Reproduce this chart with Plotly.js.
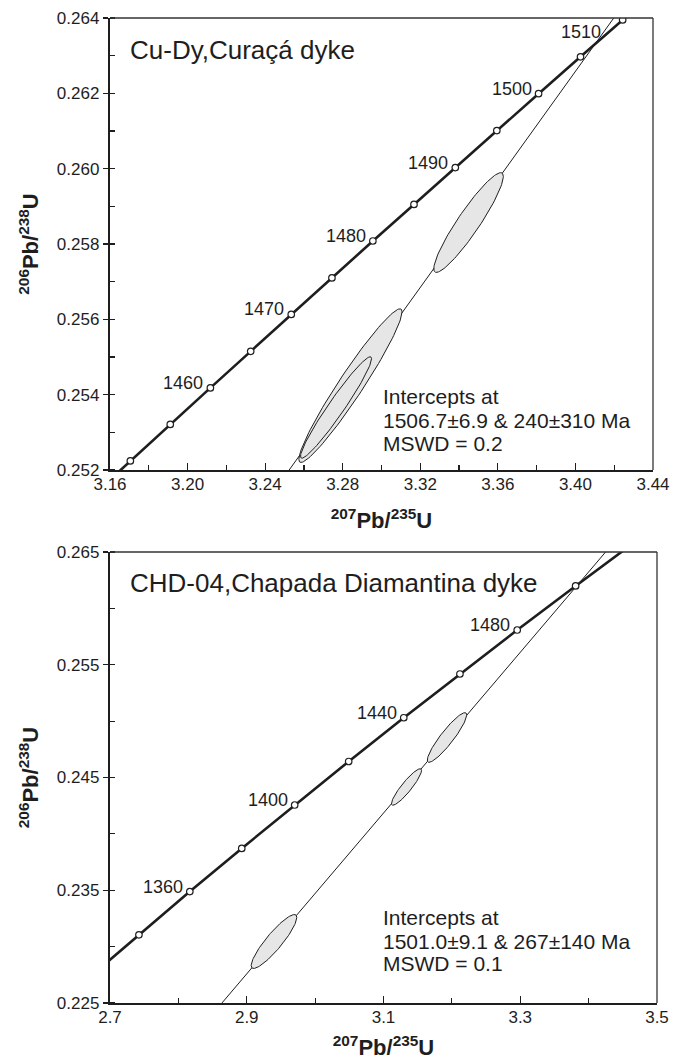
<!DOCTYPE html>
<html><head><meta charset="utf-8">
<script src="https://cdn.plot.ly/plotly-3.0.1.min.js"></script>
<style>html,body{margin:0;padding:0;background:#fff}#chart{width:686px;height:1060px}</style>
</head><body><div id="chart"></div>
<script>
// ---------- Top panel: Cu-Dy, Curaçá dyke ----------
const topAges   = [1445,1450,1455,1460,1465,1470,1475,1480,1485,1490,1495,1500,1505,1510,1515];
const topConX   = [3.15000,3.17049,3.19107,3.21176,3.23255,3.25345,3.27444,3.29554,3.31675,3.33806,3.35947,3.38099,3.40262,3.42435,3.44619];
const topConY   = [0.25127,0.25224,0.25321,0.25418,0.25515,0.25613,0.25710,0.25808,0.25905,0.26003,0.26101,0.26199,0.26297,0.26395,0.26493];
const topMarkerAges = [1450,1455,1460,1465,1470,1475,1480,1485,1490,1495,1500,1505,1510];
const topLabelAges  = [1460,1470,1480,1490,1500,1510];
const topDiscX  = [3.2400, 3.4400];
const topDiscY  = [0.251112, 0.265451];
const topEllCx  = [3.2840, 3.27656, 3.34489];
const topEllCy  = [0.25424, 0.25366, 0.25857];
const topEllHx  = [0.0266, 0.01832, 0.01793];
const topEllHy  = [0.00204, 0.001346, 0.001324];
const topEllRho = [0.960, 0.963, 0.9255];
const topTitle  = "Cu-Dy,Curaçá dyke";
const topStats  = ["Intercepts at", "1506.7±6.9 & 240±310 Ma", "MSWD = 0.2"];

// ---------- Bottom panel: CHD-04, Chapada Diamantina dyke ----------
const botAges   = [1320,1340,1360,1380,1400,1420,1440,1460,1480,1500,1520];
const botConX   = [2.66930,2.74230,2.81674,2.89266,2.97009,3.04907,3.12961,3.21176,3.29554,3.38099,3.46814];
const botConY   = [0.22724,0.23105,0.23488,0.23871,0.24256,0.24642,0.25030,0.25418,0.25808,0.26199,0.26591];
const botMarkerAges = [1340,1360,1380,1400,1420,1440,1460,1480,1500];
const botLabelAges  = [1360,1400,1440,1480];
const botDiscX  = [2.8500, 3.5000];
const botDiscY  = [0.224022, 0.270359];
const botEllCx  = [2.93986, 3.13364, 3.19287];
const botEllCy  = [0.230455, 0.244157, 0.248548];
const botEllHx  = [0.03337, 0.02196, 0.02880];
const botEllHy  = [0.002390, 0.001618, 0.002200];
const botEllRho = [0.894, 0.908, 0.911];
const botTitle  = "CHD-04,Chapada Diamantina dyke";
const botStats  = ["Intercepts at", "1501.0±9.1 & 267±140 Ma", "MSWD = 0.1"];

const FONT = "Liberation Sans, Arial, Helvetica, sans-serif";
const INK = "#1e1e1e";

function ellipse(cx, cy, hx, hy, rho) {
  const xs = [], ys = [], n = 120, s = Math.sqrt(1 - rho * rho);
  for (let i = 0; i <= n; i++) {
    const t = 2 * Math.PI * i / n;
    xs.push(cx + hx * Math.cos(t));
    ys.push(cy + hy * (rho * Math.cos(t) + s * Math.sin(t)));
  }
  return [xs, ys];
}

function panelTraces(xa, ya, ages, cx, cy, mAges, dX, dY, eCx, eCy, eHx, eHy, eRho) {
  const tr = [];
  tr.push({x: dX, y: dY, xaxis: xa, yaxis: ya, mode: 'lines', line: {color: INK, width: 1}, hoverinfo: 'skip'});
  for (let i = 0; i < eCx.length; i++) {
    const [ex, ey] = ellipse(eCx[i], eCy[i], eHx[i], eHy[i], eRho[i]);
    tr.push({x: ex, y: ey, xaxis: xa, yaxis: ya, mode: 'lines', fill: 'toself', fillcolor: '#e6e6e6',
             line: {color: INK, width: 1}, hoverinfo: 'skip'});
  }
  tr.push({x: cx, y: cy, xaxis: xa, yaxis: ya, mode: 'lines', line: {color: INK, width: 2.6}, hoverinfo: 'skip'});
  const mx = [], my = [];
  mAges.forEach(a => { const k = ages.indexOf(a); mx.push(cx[k]); my.push(cy[k]); });
  tr.push({x: mx, y: my, xaxis: xa, yaxis: ya, mode: 'markers',
           marker: {symbol: 'circle', size: 6.5, color: '#ffffff', line: {color: INK, width: 1.2}}, hoverinfo: 'skip'});
  return tr;
}

const data = [].concat(
  panelTraces('x', 'y', topAges, topConX, topConY, topMarkerAges, topDiscX, topDiscY, topEllCx, topEllCy, topEllHx, topEllHy, topEllRho),
  panelTraces('x2', 'y2', botAges, botConX, botConY, botMarkerAges, botDiscX, botDiscY, botEllCx, botEllCy, botEllHx, botEllHy, botEllRho)
);

const annotations = [];
function ageLabels(xr, yr, ages, cx, cy, labels, special) {
  labels.forEach(a => {
    const k = ages.indexOf(a);
    const sh = special[a] || [-5, 5];
    annotations.push({x: cx[k], y: cy[k], xref: xr, yref: yr, text: String(a), showarrow: false,
      xanchor: 'right', yanchor: 'middle', xshift: sh[0], yshift: sh[1],
      font: {family: FONT, size: 18, color: INK}});
  });
}
ageLabels('x', 'y', topAges, topConX, topConY, topLabelAges, {1510: [-20, -12]});
ageLabels('x2', 'y2', botAges, botConX, botConY, botLabelAges, {});

annotations.push({xref: 'x domain', yref: 'y domain', x: 0.033, y: 0.929, text: topTitle, showarrow: false,
  xanchor: 'left', yanchor: 'middle', font: {family: FONT, size: 26, color: INK}});
annotations.push({xref: 'x2 domain', yref: 'y2 domain', x: 0.033, y: 0.931, text: botTitle, showarrow: false,
  xanchor: 'left', yanchor: 'middle', font: {family: FONT, size: 26, color: INK}});
const topStatY = [0.1615, 0.1106, 0.0597], botStatY = [0.1885, 0.1353, 0.0865];
topStats.forEach((s, i) => annotations.push({xref: 'x domain', yref: 'y domain', x: 0.499, y: topStatY[i], text: s,
  showarrow: false, xanchor: 'left', yanchor: 'middle', font: {family: FONT, size: 21, color: INK}}));
botStats.forEach((s, i) => annotations.push({xref: 'x2 domain', yref: 'y2 domain', x: 0.4954, y: botStatY[i], text: s,
  showarrow: false, xanchor: 'left', yanchor: 'middle', font: {family: FONT, size: 21, color: INK}}));

const frame = (xr, yr) => [
  {type: 'line', xref: xr, yref: yr, x0: 0, x1: 1, y0: 1, y1: 1, line: {color: '#333', width: 1.3}},
  {type: 'line', xref: xr, yref: yr, x0: 1, x1: 1, y0: 0, y1: 1, line: {color: '#333', width: 1.3}}
];

const tickFont = {family: FONT, size: 17, color: INK};
const xTitle = {text: '<sup>207</sup>Pb/<sup>235</sup>U', font: {family: FONT, size: 22, color: INK, weight: 'bold'}};
const yTitle = {text: '<sup>206</sup>Pb/<sup>238</sup>U', font: {family: FONT, size: 22, color: INK, weight: 'bold'}};
function xAxis(dom, anchor, range, t0, dt, fmt, mdt, standoff) {
  return {domain: dom, anchor: anchor, range: range, tick0: t0, dtick: dt, tickformat: fmt,
    ticks: 'inside', ticklen: 7, tickwidth: 1.2, tickcolor: INK, ticklabelstandoff: -3,
    minor: {dtick: mdt, ticks: 'inside', ticklen: 5, tickwidth: 1.2, tickcolor: INK, showgrid: false},
    showline: true, linewidth: 2.2, linecolor: INK, mirror: false, showgrid: false, zeroline: false,
    tickfont: tickFont, title: Object.assign({standoff: standoff}, xTitle), automargin: false, fixedrange: true};
}
function yAxis(dom, anchor, range, t0, dt, fmt, mdt) {
  return {domain: dom, anchor: anchor, range: range, tick0: t0, dtick: dt, tickformat: fmt,
    ticks: 'outside', ticklen: 5, tickwidth: 1.2, tickcolor: INK,
    minor: {dtick: mdt, ticks: 'inside', ticklen: 5, tickwidth: 1.2, tickcolor: INK, showgrid: false},
    showline: true, linewidth: 2.2, linecolor: INK, mirror: false, showgrid: false, zeroline: false,
    tickfont: tickFont, title: Object.assign({standoff: 12}, yTitle), automargin: false, fixedrange: true};
}

const layout = {
  width: 686, height: 1060,
  margin: {l: 110, r: 29, t: 18, b: 57},
  paper_bgcolor: '#fff', plot_bgcolor: '#fff',
  showlegend: false,
  font: {family: FONT, color: INK},
  xaxis:  xAxis([0, 0.99269], 'y', [3.16, 3.44], 3.16, 0.04, '.2f', 0.02, 20),
  yaxis:  yAxis([0.54112, 1], 'x', [0.252, 0.264], 0.252, 0.002, '.3f', 0.001),
  xaxis2: xAxis([0, 1], 'y2', [2.7, 3.5], 2.7, 0.2, '.1f', 0.1, 14),
  yaxis2: yAxis([0, 0.45787], 'x2', [0.225, 0.265], 0.225, 0.01, '.3f', 0.005),
  annotations: annotations,
  shapes: frame('x domain', 'y domain').concat(frame('x2 domain', 'y2 domain'))
};

Plotly.newPlot('chart', data, layout, {staticPlot: true, displayModeBar: false});
</script></body></html>
